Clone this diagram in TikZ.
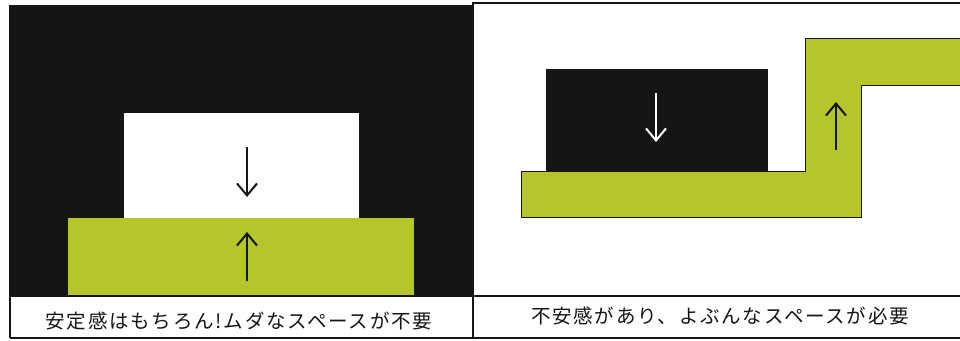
\documentclass[tikz,border=0pt]{standalone}
\usepackage{fontspec}
\newfontfamily\cjk[LetterSpace=9]{Noto Sans CJK JP}
\usetikzlibrary{arrows.meta}
\definecolor{leaf}{HTML}{B4C62B}
\definecolor{ink}{HTML}{151515}
\tikzset{
  frame/.style={draw=ink,line width=1.2pt},
  caption/.style={font=\cjk\fontsize{19.5}{21}\selectfont,text=ink,anchor=center,inner sep=0pt},
  push/.style={-{Straight Barb[length=12pt,width=20pt,line width=2pt]},line width=1.7pt},
}
\begin{document}
\begin{tikzpicture}[x=1pt,y=-1pt]
\useasboundingbox (0,0) rectangle (960,340);
\fill[white] (0,0) rectangle (960,340);
% left panel
\fill[ink] (10,5) rectangle (473,297);
\fill[white] (124,113) rectangle (359,218);
\fill[leaf] (68,218) rectangle (414,296);
\coordinate (ld1) at (247,147); \coordinate (ld2) at (247,197);
\coordinate (lu1) at (247,281); \coordinate (lu2) at (247,232);
\draw[push,draw=ink] (ld1) -- (ld2);
\draw[push,draw=ink] (lu1) -- (lu2);
% right panel
\fill[ink] (546,69) rectangle (768,171);
\filldraw[fill=leaf,draw=ink,line width=0.9pt] (521,171) -- (805,171) -- (805,38) -- (961,38) -- (961,85) -- (861,85) -- (861,217) -- (521,217) -- cycle;
\coordinate (rd1) at (656,93); \coordinate (rd2) at (656,142);
\coordinate (ru1) at (836,150); \coordinate (ru2) at (836,102);
\draw[push,draw=white,line width=2.2pt] (rd1) -- (rd2);
\draw[push,draw=ink,line width=1.3pt] (ru1) -- (ru2);
% frames
\draw[frame] (472,3) -- (960,3);
\draw[frame] (10,296) -- (960,296);
\draw[frame] (10,338) -- (960,338);
\draw[frame] (10,5) -- (10,338);
\draw[frame] (473,3) -- (473,338);
% captions
\node[caption] (capl) at (239,321) {安定感はもちろん!ムダなスペースが不要};
\node[caption] (capr) at (720,316) {不安感があり、よぶんなスペースが必要};
\end{tikzpicture}
\end{document}
